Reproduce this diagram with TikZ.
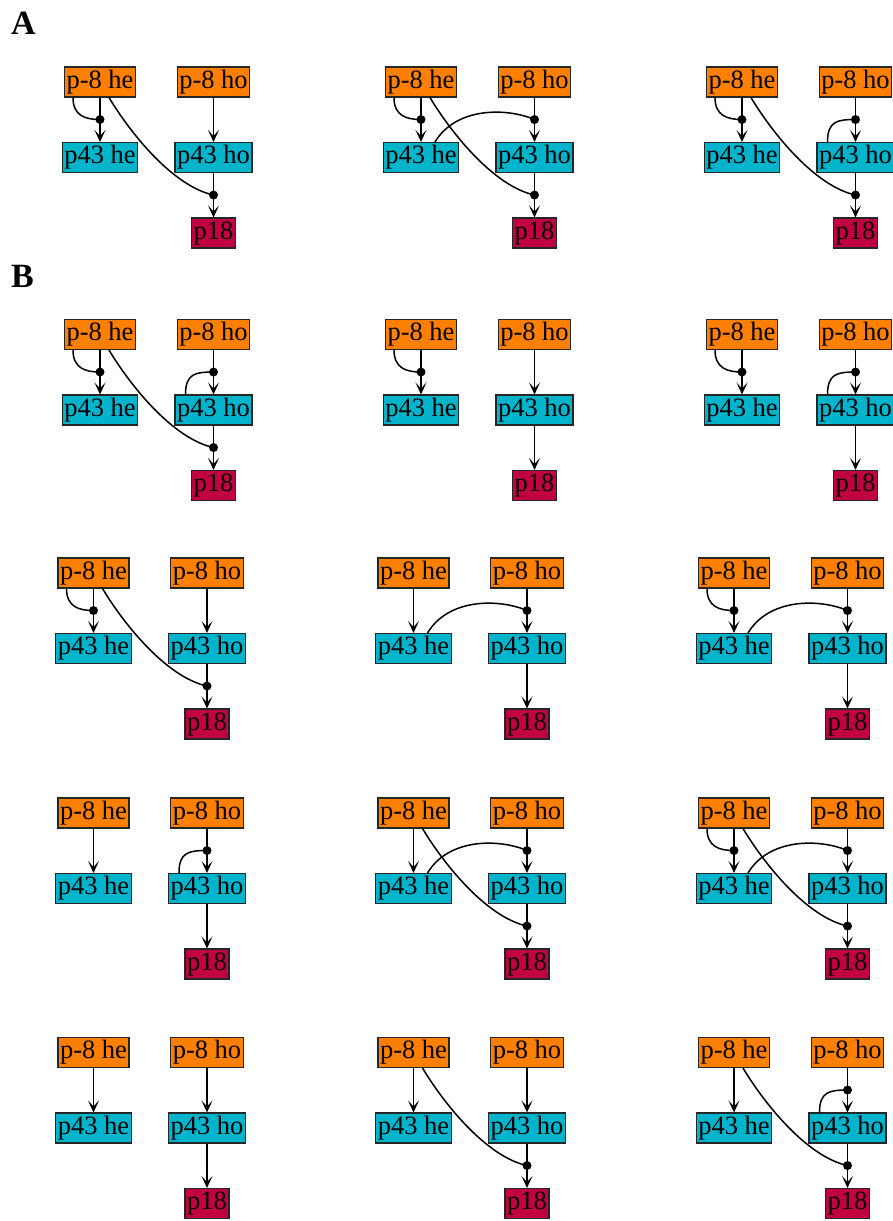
\documentclass[tikz,border=0pt]{standalone}
\usepackage{fontspec}
\setmainfont{Liberation Serif}
\usetikzlibrary{arrows.meta,calc}
\definecolor{corange}{RGB}{255,128,0}
\definecolor{ccyan}{RGB}{0,180,204}
\definecolor{ccrim}{RGB}{192,0,64}
\tikzset{
 box/.style={draw=black!85, line width=1.2pt, inner xsep=2.1pt, inner ysep=3pt,
   text height=18.1pt, text depth=5.75pt, font=\fontsize{26.5}{30}\selectfont},
 p8box/.style={box, fill=corange},
 p43box/.style={box, fill=ccyan},
 p18box/.style={box, fill=ccrim},
 edge/.style={line width=1.5pt, -{Stealth[length=12pt,width=11pt,inset=6pt]}},
 link/.style={line width=1.5pt},
 lbl/.style={anchor=base west, inner sep=0pt, font=\fontsize{34}{40}\selectfont\bfseries},
}
\newcommand\mypanel[7]{%
\begin{scope}[shift={(#2,#3)}]
\node[p8box] (#1a) at (0,0) {p-8 he};
\node[p8box] (#1b) at (113.5,0) {p-8 ho};
\node[p43box] (#1c) at (0,75.5) {p43 he};
\node[p43box] (#1d) at (113.5,75.5) {p43 ho};
\node[p18box] (#1e) at (113.5,151) {p18};
\end{scope}
\coordinate (#1m1) at ($(#1a.south)+(0,22)$);
\coordinate (#1m2) at ($(#1b.south)+(0,22)$);
\coordinate (#1m3) at ($(#1d.south)+(0,22)$);
\draw[edge] (#1a) -- (#1c);
\draw[edge] (#1b) -- (#1d);
\draw[edge] (#1d) -- (#1e);
\ifnum#4=1 \draw[link] ($(#1a.south)+(-27,0)$) .. controls +(0,18) and +(-15,0) .. (#1m1);\fi
\ifnum#5=1 \draw[link] ($(#1d.north)+(-28,0)$) .. controls +(0,-21) and +(-18,0) .. (#1m2);\fi
\ifnum#6=1 \draw[link] ($(#1a.south)+(9,0)$) .. controls +(21,35) and +(-41,-9) .. (#1m3);\fi
\ifnum#7=1 \draw[link] ($(#1c.north)+(14,0)$) .. controls +(21,-35) and +(-28,-12) .. (#1m2);\fi
\ifnum#4=1 \fill (#1m1) circle (4.5);\fi
\ifnum#5=1 \fill (#1m2) circle (4.5);\fi
\ifnum#7=1 \fill (#1m2) circle (4.5);\fi
\ifnum#6=1 \fill (#1m3) circle (4.5);\fi
}
\begin{document}
\begin{tikzpicture}[x=1pt,y=-1pt]
\useasboundingbox (0,0) rectangle (893,1221);
\node[lbl] (labA) at (11,34) {A};
\node[lbl] (labB) at (11,287) {B};
\mypanel{pa}{100}{82}{1}{0}{1}{0}
\mypanel{pb}{421}{82}{1}{0}{1}{1}
\mypanel{pc}{742}{82}{1}{1}{1}{0}
\mypanel{pd}{100}{334.5}{1}{1}{1}{0}
\mypanel{pe}{421}{334.5}{1}{0}{0}{0}
\mypanel{pf}{742}{334.5}{1}{1}{0}{0}
\mypanel{pg}{93.5}{573}{1}{0}{1}{0}
\mypanel{ph}{413.5}{573}{0}{0}{0}{1}
\mypanel{pi}{734}{573}{1}{0}{0}{1}
\mypanel{pj}{93.5}{813}{0}{1}{0}{0}
\mypanel{pk}{413.5}{813}{0}{0}{1}{1}
\mypanel{pl}{734}{813}{1}{0}{1}{1}
\mypanel{pm}{93.5}{1052.5}{0}{0}{0}{0}
\mypanel{pn}{413.5}{1052.5}{0}{0}{1}{0}
\mypanel{po}{734}{1052.5}{0}{1}{1}{0}
\end{tikzpicture}
\end{document}
